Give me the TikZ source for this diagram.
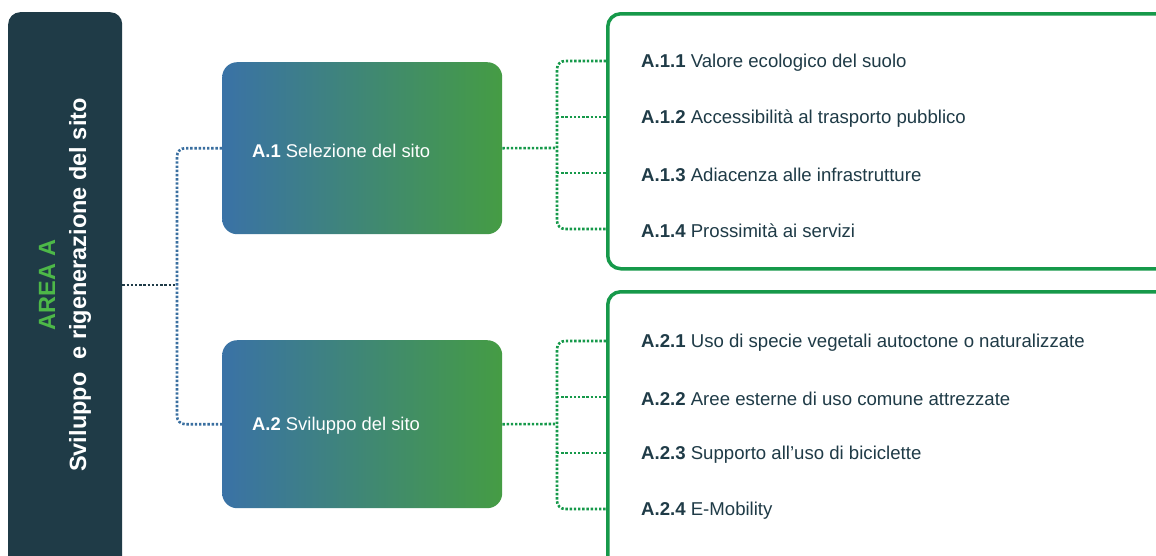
\documentclass[tikz,border=0pt]{standalone}
\usepackage{fontspec}
\setmainfont{Liberation Sans}
\usetikzlibrary{calc}
\definecolor{darkteal}{HTML}{1F3B47}
\definecolor{areagreen}{HTML}{4DB848}
\definecolor{gblue}{HTML}{3A72A6}
\definecolor{ggreen}{HTML}{459C44}
\definecolor{boxgreen}{HTML}{16994A}
\definecolor{dotblue}{HTML}{3A6FA0}
\definecolor{txt}{HTML}{1F3B47}
\tikzset{
  darkbox/.style={fill=darkteal, rounded corners=12pt, inner sep=0pt, minimum width=114pt, minimum height=560pt, anchor=north west},
  gradbox/.style={left color=gblue, right color=ggreen, rounded corners=15pt, inner sep=0pt, minimum width=280pt, minimum height=172pt, anchor=north west},
  listbox/.style={draw=boxgreen, line width=3.5pt, rounded corners=13pt, inner sep=0pt, minimum width=580pt, minimum height=255pt, anchor=north west},
  dotline/.style={line width=2.6pt, dash pattern=on 2.4pt off 1.8pt},
  bluedot/.style={dotline, draw=dotblue, rounded corners=8pt},
  darkdot/.style={dotline, draw=darkteal},
  greendot/.style={dotline, draw=boxgreen, rounded corners=8pt},
  itemtext/.style={anchor=west, inner sep=0pt, text=txt, font=\fontsize{18.6}{21}\selectfont},
  boxtext/.style={anchor=west, inner sep=0pt, text=white, font=\fontsize{18.4}{21}\selectfont},
  vtext/.style={rotate=90, inner sep=0pt, font=\bfseries\fontsize{23.5}{27}\selectfont},
}
\begin{document}
\begin{tikzpicture}[x=1pt,y=-1pt]
\clip (0,0) rectangle (1156,555);
\fill[white] (0,0) rectangle (1156,555);
% left area box
\node[darkbox] (area) at (8,12) {};
\node[vtext, text=areagreen] (areaA) at (47,285) {AREA A};
\node[vtext, text=white] (areaT) at (80,285) {Sviluppo \ e rigenerazione del sito};
% gradient boxes
\node[gradbox] (a1) at (222,62) {};
\node[gradbox, minimum height=168pt] (a2) at (222,340) {};
\node[boxtext] (a1t) at (252,151) {\textbf{A.1} Selezione del sito};
\node[boxtext] (a2t) at (252,426) {\textbf{A.2} Sviluppo del sito};
% connectors left
\coordinate (j0) at (177,285);
\draw[darkdot] (area.east |- j0) -- (j0);
\draw[bluedot] (a1.west) -| (j0) |- (a2.west);
% list boxes
\node[listbox] (g1) at (606,12) {};
\node[listbox, minimum height=290pt] (g2) at (606,290) {};
% items
\node[itemtext] (i11) at (641,63) {\textbf{A.1.1} Valore ecologico del suolo};
\node[itemtext] (i12) at (641,119) {\textbf{A.1.2} Accessibilità al trasporto pubblico};
\node[itemtext] (i13) at (641,175) {\textbf{A.1.3} Adiacenza alle infrastrutture};
\node[itemtext] (i14) at (641,231) {\textbf{A.1.4} Prossimità ai servizi};
\node[itemtext] (i21) at (641,343) {\textbf{A.2.1} Uso di specie vegetali autoctone o naturalizzate};
\node[itemtext] (i22) at (641,399) {\textbf{A.2.2} Aree esterne di uso comune attrezzate};
\node[itemtext] (i23) at (641,455) {\textbf{A.2.3} Supporto all’uso di biciclette};
\node[itemtext] (i24) at (641,511) {\textbf{A.2.4} E-Mobility};
% connectors right
\coordinate (j1) at (557,148);
\coordinate (j2) at (557,424);
\draw[greendot] (a1.east) -- (j1);
\draw[greendot] ($(g1.west |- i11)+(0,-2)$) -| (j1) |- ($(g1.west |- i14)+(0,-2)$);
\draw[greendot] ($(j1 |- i12)+(0,-2)$) -- ($(g1.west |- i12)+(0,-2)$);
\draw[greendot] ($(j1 |- i13)+(0,-2)$) -- ($(g1.west |- i13)+(0,-2)$);
\draw[greendot] (a2.east) -- (j2);
\draw[greendot] ($(g2.west |- i21)+(0,-2)$) -| (j2) |- ($(g2.west |- i24)+(0,-2)$);
\draw[greendot] ($(j2 |- i22)+(0,-2)$) -- ($(g2.west |- i22)+(0,-2)$);
\draw[greendot] ($(j2 |- i23)+(0,-2)$) -- ($(g2.west |- i23)+(0,-2)$);
\end{tikzpicture}
\end{document}
